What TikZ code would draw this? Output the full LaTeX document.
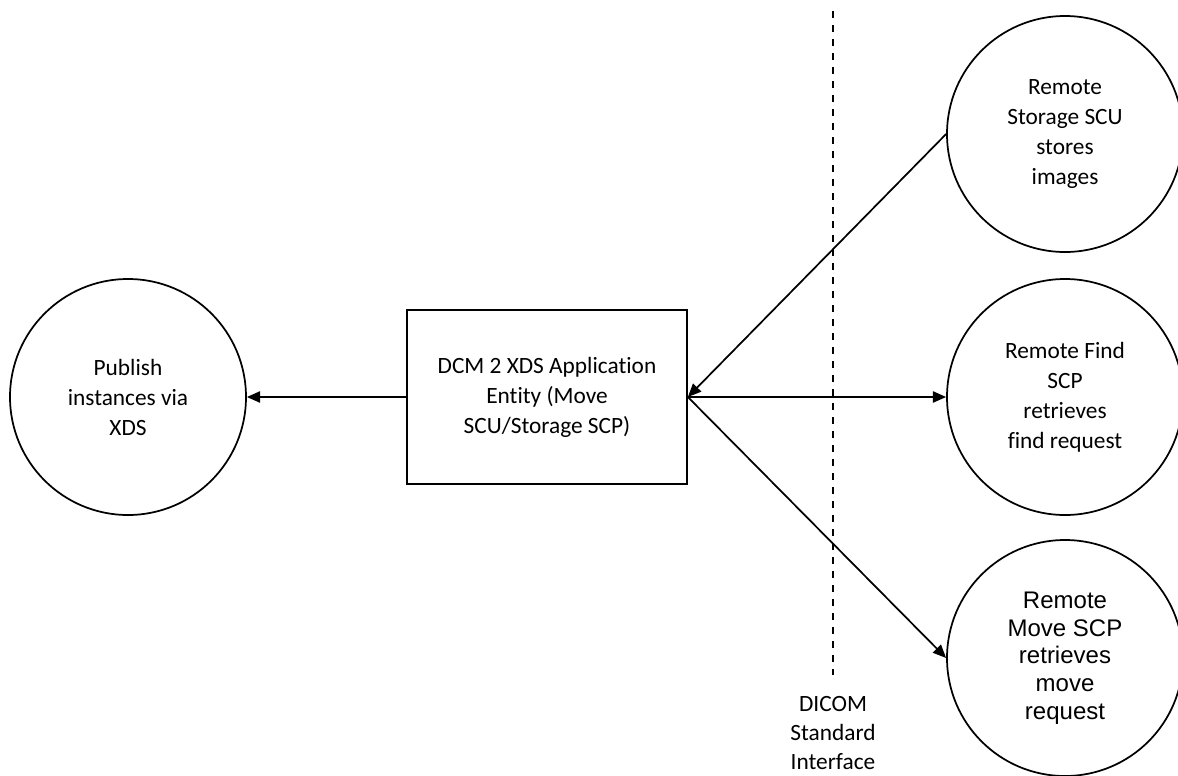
\documentclass[tikz,border=0pt]{standalone}
\usepackage{fontspec}
\setmainfont{Carlito}[Ligatures=NoCommon]
\newfontfamily\arialfont{Liberation Sans}
\usetikzlibrary{arrows.meta}

\begin{document}
\begin{tikzpicture}[x=0.75pt,y=0.75pt,yscale=-1,xscale=1,
  proc/.style={draw, circle, line width=1.3pt, minimum size=177pt, inner sep=0pt, align=center, font=\fontsize{17.5}{22.5}\selectfont},
  entity/.style={draw, line width=1.3pt, minimum width=210pt, minimum height=131pt, inner sep=0pt, align=center, font=\fontsize{17.5}{22.5}\selectfont},
  flow/.style={line width=1.3pt, -{Triangle[length=10pt,width=8.5pt]}}]
\useasboundingbox (0,0) rectangle (1178,775);

% Application entity
\node [entity] (ae) at (547,397) {DCM 2 XDS Application\\Entity (Move\\SCU/Storage SCP)};

% Circles
\node [proc] (publish) at (128,397) {Publish\\instances via\\XDS};
\node [proc] (store) at (1065,134) {Remote\\Storage SCU\\stores\\images};
\node [proc] (find) at (1065,397) {Remote Find\\SCP\\retrieves\\find request};
\node [proc, font=\arialfont\fontsize{18}{20.8}\selectfont] (move) at (1065,658) {Remote\\Move SCP\\retrieves\\move\\request};

% DICOM interface
\coordinate (dtop) at (833,11);
\coordinate (dbot) at (833,675);
\draw [line width=1.4pt, dash pattern=on 5.6pt off 4.9pt] (dtop) -- (dbot);
\node [align=center, font=\fontsize{17.5}{21.5}\selectfont, inner sep=0pt] (dicom) at (833,733) {DICOM\\Standard\\Interface};

%Straight Lines
\draw [flow] (ae.west) -- (publish.east);
\draw [flow] (store.west) -- (ae.east);
\draw [flow] (ae.east) -- (find.west);
\draw [flow] (ae.east) -- (move.west);

\end{tikzpicture}
\end{document}
